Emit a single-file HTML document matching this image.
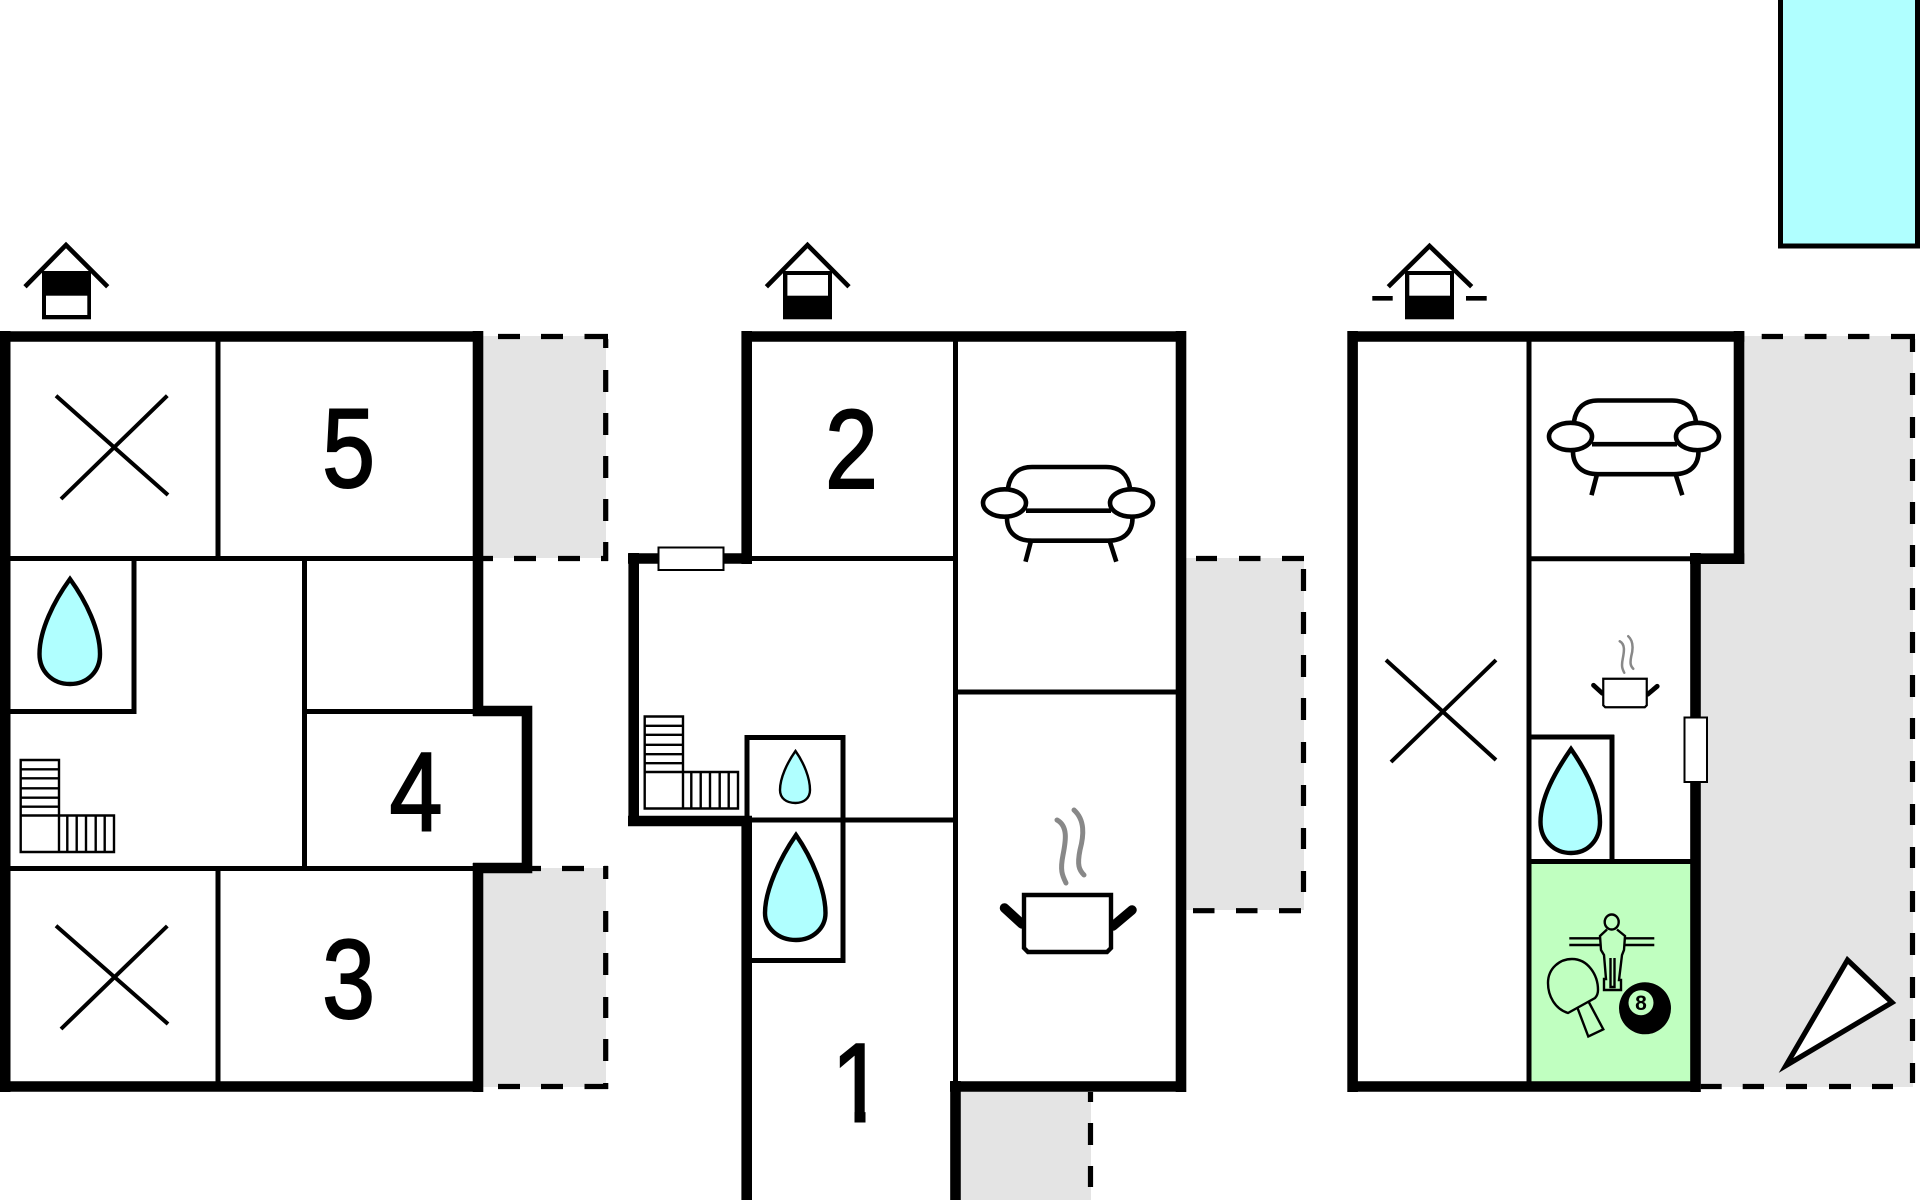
<!DOCTYPE html>
<html><head><meta charset="utf-8"><title>Floor plan</title>
<style>html,body{margin:0;padding:0;background:#fff}svg{display:block}text{font-family:"Liberation Sans",sans-serif;fill:#000}</style></head>
<body>
<svg xmlns="http://www.w3.org/2000/svg" xmlns:xlink="http://www.w3.org/1999/xlink" width="1920" height="1200" viewBox="0 0 1920 1200">
<defs>
<g id="stairs" fill="none" stroke="#000" stroke-width="2.4">
<path d="M20.7 760H59V852H20.7ZM20.7 769.3H59M20.7 778.3H59M20.7 788.3H59M20.7 797.7H59M20.7 806.7H59M20.7 815.5H114V852H59V760M67.3 815.5V852M76.7 815.5V852M86 815.5V852M95.7 815.5V852M104.7 815.5V852"/>
</g>
<g id="sofa" fill="none" stroke="#000" stroke-width="4.6">
<path d="M1008 488C1010 475 1018 467 1032 467H1106C1120 467 1128 475 1130 488"/>
<path d="M1026 510.7H1111"/>
<path d="M1007 518C1007 532 1016 540.7 1032 540.7H1108C1124 540.7 1132.5 532 1132.5 518"/>
<path d="M1030.7 542L1025.5 561.7M1110 542L1116.3 561.7"/>
<ellipse cx="1004.5" cy="503" rx="21.5" ry="13.7" fill="#fff"/>
<ellipse cx="1131.5" cy="503" rx="21.5" ry="13.7" fill="#fff"/>
</g>
<g id="pot">
<path d="M1057 820C1068 826 1066 840 1063 855C1060 870 1062 875 1066 883M1074 810C1085 820 1084 835 1080 850C1077 865 1079 870 1084 875" fill="none" stroke="#888" stroke-width="5" stroke-linecap="round"/>
<path d="M1004.5 908L1022 924M1132 910L1113 926" stroke="#000" stroke-width="9.500" stroke-linecap="round"/>
<path d="M1024 895H1111V948L1107 952H1028L1024 948Z" fill="#fff" stroke="#000" stroke-width="4.4"/>
</g>
</defs>

<!-- gray terraces -->
<rect x="483" y="336" width="123" height="222" fill="#e4e4e4"/>
<rect x="483" y="868" width="123" height="219" fill="#e4e4e4"/>
<rect x="1186" y="558" width="118" height="352" fill="#e4e4e4"/>
<rect x="961" y="1087" width="130" height="113" fill="#e4e4e4"/>
<path d="M1744 336H1913V1087H1700V564H1744Z" fill="#e4e4e4"/>

<!-- pool -->
<path d="M1780.5 -10V246H1917.5V-10Z" fill="#b0ffff" stroke="#000" stroke-width="5"/>

<!-- dashes -->
<g fill="none" stroke="#000" stroke-width="5.2">
<path d="M498 336.5H520M541 336.5H563M584.5 336.5H608M605.7 339V348M605.7 370V392M605.7 413V435M605.7 456V478M605.7 499V521M605.7 542V561M483 558.5H493M514 558.5H536M558 558.5H580M601 558.5H608"/>
<path d="M532 868.5H541M562 868.5H584M604 868.5H608M605.7 866V879M605.7 911V932M605.7 953V975M605.7 997V1018M605.7 1039V1061M605.7 1083V1089M498 1086.5H520M541 1086.5H563M584.5 1086.5H608"/>
<path d="M1196 558.5H1217M1239 558.5H1260.5M1282 558.5H1304M1303.5 569V591M1303.5 612V634M1303.5 655V677M1303.5 698V720M1303.5 742V763M1303.5 785V806M1303.5 828V849M1303.5 871V892M1193 910.7H1214.5M1236 910.7H1257.5M1279 910.7H1301"/>
<path d="M1090.5 1092V1102M1090.5 1123V1145M1090.5 1166V1187"/>
<path d="M1761.7 336.5H1783M1804.7 336.5H1826.5M1848 336.5H1869.4M1891 336.5H1915M1912.5 339V352M1912.5 373V395M1912.5 417V438M1912.5 459V481M1912.5 502V524M1912.5 545V567M1912.5 588V610M1912.5 632V653M1912.5 675V697M1912.5 718V739M1912.5 761V782M1912.5 804V825M1912.5 847V868M1912.5 891V912M1912.5 933V955M1912.5 977V998M1912.5 1019V1041M1912.5 1063V1083"/>
<path d="M1700.7 1086.5H1721.7M1742.7 1086.5H1764M1786 1086.5H1807M1829 1086.5H1851M1872 1086.5H1893"/>
</g>

<!-- green room -->
<rect x="1531" y="863" width="161" height="219" fill="#c0ffc0"/>

<!-- building 1 -->
<g fill="none" stroke="#000" stroke-width="5">
<path d="M218 336V558M304.5 558V868M134 558V714M5 711.5H136M304 711.5H478M0 558.5H478M0 868.5H478M218 868V1086"/>
</g>
<g fill="none" stroke="#000" stroke-width="10.6">
<path d="M5.2 331V1092M0 336.5H483M0 1086.5H483M478 331V716M473 711H527V868H473M478 863V1092"/>
</g>

<!-- building 2 -->
<g fill="none" stroke="#000" stroke-width="5">
<path d="M955.5 336V1085M749 558.5H955M955 692H1177M747 820H955"/>
<path d="M747 735V820M747 735M744.5 737.5H845.4M843 735V963M746 960.5H845.4"/>
</g>
<g fill="none" stroke="#000" stroke-width="10.6">
<path d="M746.7 331V564M741.4 336.5H1186M1181 331V1092M950 1086.5H1186M955.5 1081V1200M752 558.5H628M633.7 553V826M628 821H752"/>
</g>
<path d="M746.7 816V1200" stroke="#000" stroke-width="10.6"/>
<rect x="658.5" y="547.5" width="65" height="22.5" fill="#fff" stroke="#000" stroke-width="2"/>

<!-- building 3 -->
<g fill="none" stroke="#000" stroke-width="5">
<path d="M1529 336V1086M1529 558.7H1692M1529 861.5H1692M1529 737H1614.3M1612 735V862"/>
</g>
<g fill="none" stroke="#000" stroke-width="10.6">
<path d="M1352.6 331V1092M1347.4 336.5H1744.4M1739 331V564M1744.4 558.7H1690M1695.5 553V1092M1347.4 1086.5H1700.7"/>
</g>
<rect x="1684.5" y="717.5" width="22.5" height="64.5" fill="#fff" stroke="#000" stroke-width="2"/>

<!-- crosses -->
<g fill="none" stroke="#000" stroke-width="4">
<path d="M56 395.7L168 495M167.3 395.7L61 499"/>
<path d="M56 925.7L168 1024M167.3 926L61 1029"/>
<path d="M1386 660L1496 760M1496 660L1391 762"/>
</g>

<!-- drops -->
<g fill="#b0ffff" stroke="#000" stroke-width="4.4" stroke-linejoin="miter">
<path d="M70 579C54 601 39.5 630 39.5 654C39.5 671 52 684 70 684C88 684 100 671 100 654C100 630 86 601 70 579Z"/>
<path d="M796 835C780 858 765 890 765 913C765 928 778 940 796 940C813 940 825.5 928 825.5 913C825.5 890 812 858 796 835Z"/>
<path d="M1571 749C1555 772 1540.5 798 1540.5 822C1540.5 840 1554 853 1571 853C1588 853 1600 840 1600 822C1600 798 1587 772 1571 749Z"/>
<path d="M795.5 751C787 763 780 778 780 790C780 798 786 803 795.5 803C804 803 810 798 810 790C810 778 804 763 795.5 751Z" stroke-width="2.4"/>
</g>

<!-- stairs -->
<use xlink:href="#stairs" href="#stairs"/>
<use xlink:href="#stairs" href="#stairs" x="624" y="-43.5"/>

<!-- sofas and pots -->
<use xlink:href="#sofa" href="#sofa"/>
<use xlink:href="#sofa" href="#sofa" x="566" y="-66.5"/>
<use xlink:href="#pot" href="#pot"/>
<use xlink:href="#pot" href="#pot" transform="translate(1091.25 231.25) scale(.5)"/>

<!-- digits -->
<g font-size="112" stroke="#000" stroke-width="2">
<text transform="translate(348.6 487) scale(.85 1)" text-anchor="middle">5</text>
<text transform="translate(348.6 1018) scale(.85 1)" text-anchor="middle">3</text>
<text transform="translate(416 830.5) scale(.85 1)" text-anchor="middle">4</text>
<text transform="translate(851.5 488) scale(.85 1)" text-anchor="middle">2</text>
<text transform="translate(858 1121.5) scale(.85 1)" text-anchor="middle">1</text>
</g>
<rect x="825" y="1110" width="29.5" height="16" fill="#fff"/>
<rect x="865.5" y="1110" width="25" height="16" fill="#fff"/>

<!-- house icons -->
<g fill="none" stroke="#000" stroke-width="4.6">
<path d="M25 286.7L66 245L107.7 286.7"/>
<path d="M766.4 286.7L807.5 245L849 286.7"/>
<path d="M1388.3 286.7L1429.5 246L1471.7 286.7"/>
<path d="M1372.3 298.3H1392.7M1466 298.3H1486.7"/>
</g>
<rect x="42" y="271" width="49" height="48.3"/><rect x="46" y="295.7" width="41.3" height="19.3" fill="#fff"/>
<rect x="783" y="271" width="49" height="48.3"/><rect x="787.4" y="275" width="40.6" height="20.7" fill="#fff"/>
<rect x="1405" y="271" width="49" height="48.3"/><rect x="1409.3" y="275" width="40.7" height="20.7" fill="#fff"/>

<!-- compass triangle -->
<path d="M1847.5 960L1892 1002.5L1786 1065.5Z" fill="#fff" stroke="#000" stroke-width="5.2"/>

<!-- games -->
<g fill="none" stroke="#000" stroke-width="2.4">
<path d="M1569.3 938.3H1600M1624 938.3H1654.3M1569.3 945H1600M1624 945H1654.3"/>
<ellipse cx="1611.7" cy="922" rx="7" ry="7.5"/>
<path d="M1607 929.5L1600 936L1601 950L1604 955L1606 979H1604V990H1621V980H1619L1622 955L1624 950L1625 936L1617 929.5M1610.5 958V987H1614.5V958"/>
<path d="M1568 1013C1555 1009 1548 996 1548 983C1548 968 1560 959 1572 959C1588 959 1598 975 1598 990C1598 993 1597 996 1595 998Z"/>
<path d="M1577.5 1008L1588.3 1036.5L1603.3 1029.3L1588.5 1001.5"/>
</g>
<circle cx="1645" cy="1008.3" r="26"/>
<circle cx="1641" cy="1002.7" r="12.5" fill="#c0ffc0"/>
<text x="1641" y="1010" font-size="21" font-weight="700" text-anchor="middle">8</text>
</svg>
</body></html>
